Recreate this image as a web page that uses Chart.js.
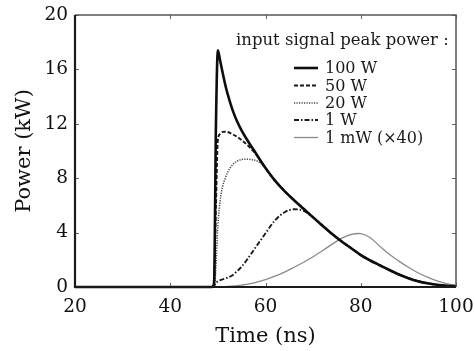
<!DOCTYPE html>
<html>
<head>
<meta charset="utf-8">
<script src="https://cdn.jsdelivr.net/npm/chart.js@4/dist/chart.umd.min.js"></script>
<style>
  html, body { margin: 0; padding: 0; background: #ffffff; }
  #wrap { width: 475px; height: 351px; position: relative; }
</style>
</head>
<body>
<div id="wrap"><canvas id="c" width="475" height="351"></canvas></div>
<script>
// ---- Data ----
const time = [20, 30, 40, 48, 48.8, 49.2, 49.6, 50, 50.5, 51, 51.5, 52, 53, 54, 55, 56, 57, 58, 59, 60,
              62, 64, 66, 68, 70, 72, 74, 76, 78, 80, 82, 84, 86, 88, 90, 92, 94, 96, 98, 100];

const p100W = [0, 0, 0, 0, 0, 0.3, 12, 17.4, 16.6, 15.75, 14.95, 14.25, 13.1, 12.2, 11.5, 10.9, 10.35, 9.82, 9.27, 8.75,
               7.82, 7.05, 6.38, 5.75, 5.12, 4.5, 3.9, 3.35, 2.85, 2.35, 1.95, 1.6, 1.25, 0.92, 0.65, 0.43, 0.27, 0.16, 0.09, 0.05];

const p50W  = [0, 0, 0, 0, 0, 0.2, 6, 10.8, 11.25, 11.4, 11.42, 11.4, 11.25, 11.05, 10.8, 10.5, 10.15, 9.78, 9.27, 8.75,
               7.82, 7.05, 6.38, 5.75, 5.12, 4.5, 3.9, 3.35, 2.85, 2.35, 1.95, 1.6, 1.25, 0.92, 0.65, 0.43, 0.27, 0.16, 0.09, 0.05];

const p20W  = [0, 0, 0, 0, 0, 0, 1.5, 4.5, 6.4, 7.4, 7.95, 8.4, 8.95, 9.25, 9.38, 9.4, 9.37, 9.3, 9.1, 8.75,
               7.82, 7.05, 6.38, 5.75, 5.12, 4.5, 3.9, 3.35, 2.85, 2.35, 1.95, 1.6, 1.25, 0.92, 0.65, 0.43, 0.27, 0.16, 0.09, 0.05];

const p1W   = [0, 0, 0, 0, 0.02, 0.1, 0.3, 0.42, 0.5, 0.56, 0.62, 0.68, 0.85, 1.15, 1.5, 1.95, 2.45, 2.95, 3.45, 3.95,
               4.9, 5.5, 5.72, 5.6, 5.12, 4.5, 3.9, 3.35, 2.85, 2.35, 1.95, 1.6, 1.25, 0.92, 0.65, 0.43, 0.27, 0.16, 0.09, 0.05];

const p1mW  = [0, 0, 0, 0, 0, 0, 0, 0, 0.01, 0.02, 0.03, 0.04, 0.07, 0.1, 0.14, 0.19, 0.26, 0.34, 0.44, 0.55,
               0.8, 1.1, 1.45, 1.82, 2.22, 2.68, 3.15, 3.58, 3.86, 3.92, 3.62, 3.0, 2.4, 1.9, 1.45, 1.05, 0.72, 0.45, 0.24, 0.1];

const xTicks = [20, 40, 60, 80, 100];
const yTicks = [0, 4, 8, 12, 16, 20];
const seriesLabels = ['100 W', '50 W', '20 W', '1 W', '1 mW (\u00D740)'];
const legendTitle = 'input signal peak power :';

const SERIF = '"DejaVu Serif", "Liberation Serif", serif';

function pts(arr) { return time.map((t, i) => ({ x: t, y: arr[i] })); }

const styles = [
  { color: '#0d0d0d', width: 2.6, dash: [] },
  { color: '#1a1a1a', width: 1.9, dash: [4, 2] },
  { color: '#444444', width: 1.5, dash: [1.2, 1.3] },
  { color: '#1a1a1a', width: 1.9, dash: [5, 2, 1.5, 2] },
  { color: '#8a8a8a', width: 1.3, dash: [] }
];
const seriesData = [p100W, p50W, p20W, p1W, p1mW];

const datasets = seriesData.map((arr, i) => ({
  label: seriesLabels[i],
  data: pts(arr),
  borderColor: styles[i].color,
  borderWidth: styles[i].width,
  borderDash: styles[i].dash,
  pointRadius: 0,
  fill: false,
  cubicInterpolationMode: i === 4 ? 'default' : 'monotone',
  tension: i === 4 ? 0.4 : 0,
  clip: 6,
  order: i
}));

// frame, inward ticks, legend
const decor = {
  id: 'decor',
  afterDatasetsDraw(chart) {
    const { ctx, chartArea: a, scales: { x, y } } = chart;
    ctx.save();
    ctx.strokeStyle = '#666';
    ctx.lineWidth = 1;
    ctx.setLineDash([]);
    const L = 4;
    xTicks.forEach(v => {
      const px = Math.round(x.getPixelForValue(v)) + 0.5;
      ctx.beginPath();
      ctx.moveTo(px, a.bottom); ctx.lineTo(px, a.bottom - L);
      ctx.moveTo(px, a.top); ctx.lineTo(px, a.top + L);
      ctx.stroke();
    });
    yTicks.forEach(v => {
      const py = Math.round(y.getPixelForValue(v)) + 0.5;
      ctx.beginPath();
      ctx.moveTo(a.left, py); ctx.lineTo(a.left + L, py);
      ctx.moveTo(a.right, py); ctx.lineTo(a.right - L, py);
      ctx.stroke();
    });
    ctx.strokeStyle = '#555';
    ctx.lineWidth = 1.5;
    ctx.beginPath();
    ctx.moveTo(a.left, a.top); ctx.lineTo(a.right, a.top); ctx.lineTo(a.right, a.bottom);
    ctx.stroke();
    ctx.strokeStyle = '#1a1a1a';
    ctx.lineWidth = 2.2;
    ctx.beginPath();
    ctx.moveTo(a.left, a.top); ctx.lineTo(a.left, a.bottom); ctx.lineTo(a.right, a.bottom);
    ctx.stroke();

    // legend
    ctx.fillStyle = '#1a1a1a';
    ctx.textAlign = 'left';
    ctx.textBaseline = 'alphabetic';
    ctx.font = '16.5px ' + SERIF;
    ctx.fillText(legendTitle, 236, 45);
    ctx.font = '16px ' + SERIF;
    const rowY = [68, 85.5, 103, 120, 137.5];
    chart.data.datasets.forEach((ds, i) => {
      const yy = rowY[i];
      ctx.strokeStyle = ds.borderColor;
      ctx.lineWidth = ds.borderWidth;
      ctx.setLineDash(ds.borderDash);
      ctx.beginPath();
      ctx.moveTo(294, yy); ctx.lineTo(318, yy);
      ctx.stroke();
      ctx.setLineDash([]);
      ctx.textBaseline = 'middle';
      ctx.fillText(ds.label, 325, yy + 1);
    });
    ctx.restore();
  }
};

new Chart(document.getElementById('c'), {
  type: 'line',
  data: { datasets },
  plugins: [decor],
  options: {
    responsive: false,
    animation: false,
    devicePixelRatio: 1,
    layout: { padding: { top: 15, right: 19, left: 0, bottom: 0 } },
    plugins: { legend: { display: false }, tooltip: { enabled: false } },
    scales: {
      x: {
        type: 'linear', min: 20, max: 100,
        afterBuildTicks: s => { s.ticks = xTicks.map(v => ({ value: v })); },
        afterFit: s => { s.height = 64; s.paddingLeft = 0; s.paddingRight = 0; },
        grid: { display: false, drawTicks: false },
        border: { display: false },
        ticks: { color: '#111', font: { family: SERIF, size: 18.5 }, padding: 9, maxRotation: 0 },
        title: { display: true, text: 'Time (ns)', color: '#111', font: { family: SERIF, size: 21 }, padding: { top: 0, bottom: 2 } }
      },
      y: {
        type: 'linear', min: 0, max: 20,
        afterBuildTicks: s => { s.ticks = yTicks.map(v => ({ value: v })); },
        afterFit: s => { s.width = 75; s.paddingTop = 0; s.paddingBottom = 0; },
        grid: { display: false, drawTicks: false },
        border: { display: false },
        ticks: { color: '#111', font: { family: SERIF, size: 18.5 }, padding: 7 },
        title: { display: true, text: 'Power (kW)', color: '#111', font: { family: SERIF, size: 21 }, padding: { top: 12, bottom: 0 } }
      }
    }
  }
});
</script>
</body>
</html>
